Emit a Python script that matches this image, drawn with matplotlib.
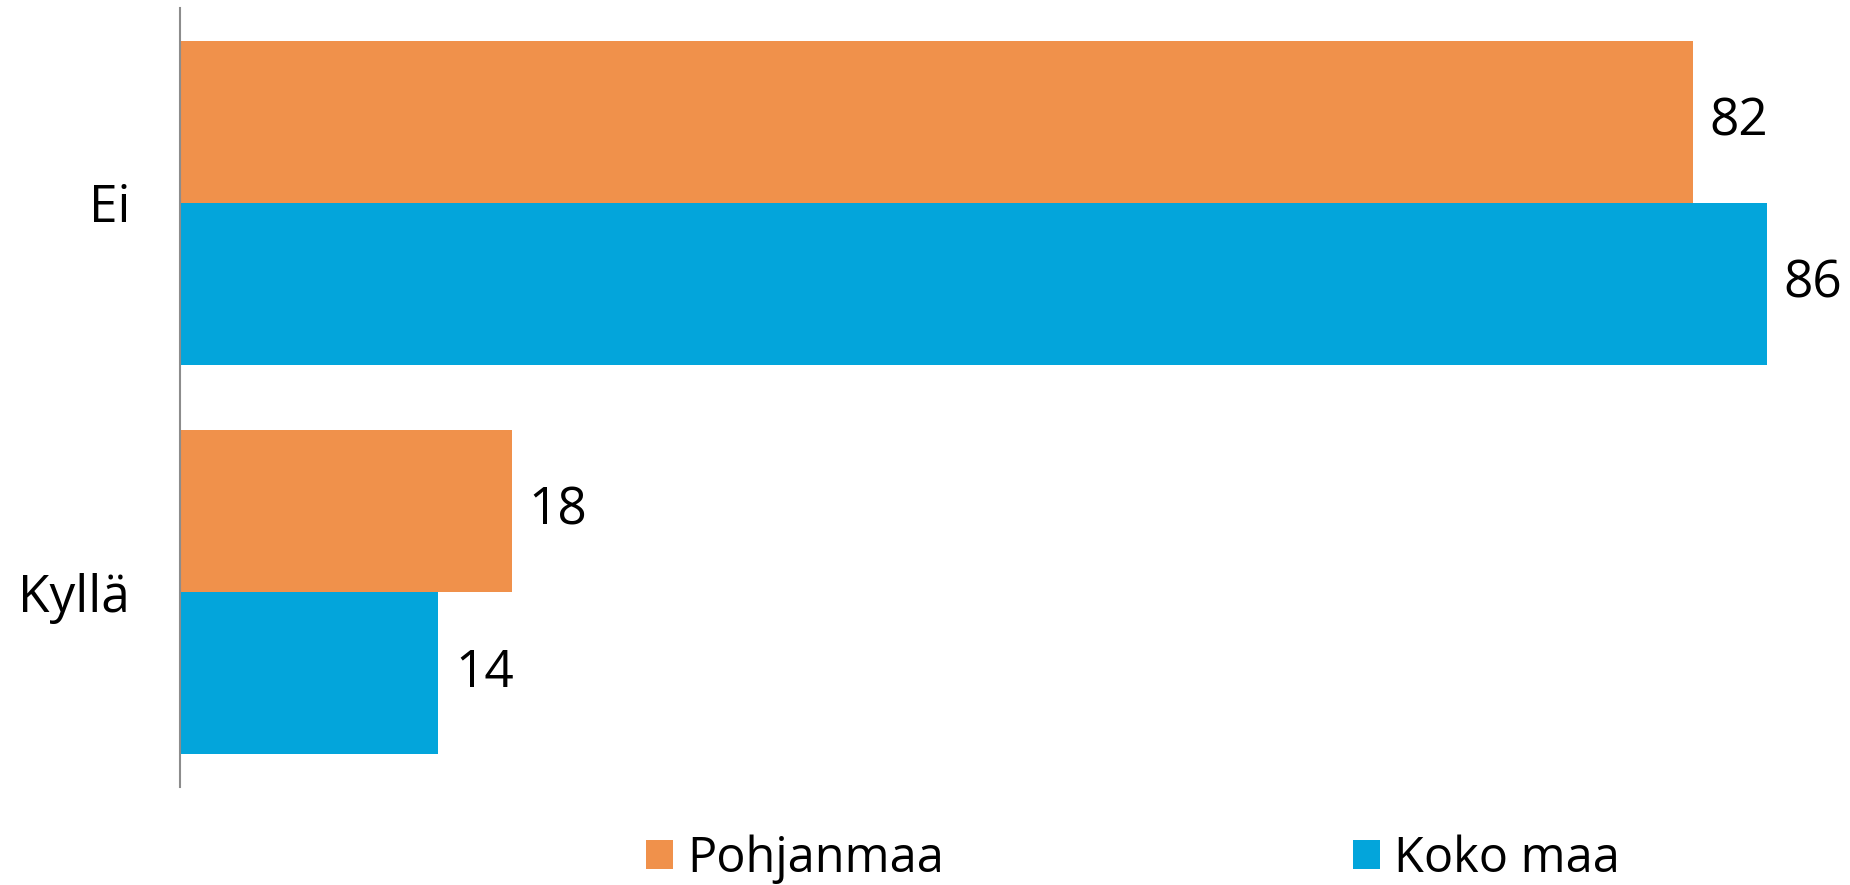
# Ei / Kyllä vaakapalkit, Pohjanmaa vs koko maa
import matplotlib.pyplot as plt

kategoriat = ["Kyllä", "Ei"]
pohjanmaa = [18, 82]
koko_maa = [14, 86]
sarjat = ["Pohjanmaa", "Koko maa"]

oranssi = "#F0914B"
sininen = "#03A5DB"

plt.rcParams["font.family"] = ["Open Sans", "DejaVu Sans"]

fig = plt.figure(figsize=(18.5, 8.85), dpi=100)
ax = fig.add_axes([180 / 1850, 98 / 885, 1 - 180 / 1850, (787 - 8) / 885])

y = list(range(len(kategoriat)))
h = 0.4165
b1 = ax.barh([i + h / 2 for i in y], pohjanmaa, height=h, color=oranssi, label=sarjat[0])
b2 = ax.barh([i - h / 2 for i in y], koko_maa, height=h, color=sininen, label=sarjat[1])

for bars, vals in ((b1, pohjanmaa), (b2, koko_maa)):
    for bar, v in zip(bars, vals):
        ax.annotate(str(v), (bar.get_width(), bar.get_y() + bar.get_height() / 2),
                    xytext=(12, 0), textcoords="offset points",
                    va="center", ha="left", fontsize=37)

ax.set_xlim(0, 90.5)
ax.set_ylim(-0.5, 1.5)
ax.set_yticks(y)
ax.set_yticklabels(kategoriat, fontsize=37)
ax.tick_params(axis="y", length=0, pad=36)
ax.set_xticks([])

for s in ("top", "right", "bottom"):
    ax.spines[s].set_visible(False)
ax.spines["left"].set_color("#8C8C8C")
ax.spines["left"].set_linewidth(1.5)

fig.legend(handles=[b1, b2], labels=sarjat, loc="center",
           bbox_to_anchor=(1133 / 1850, 1 - 859 / 885), ncol=2,
           fontsize=35, frameon=False, handlelength=0.56, handleheight=0.56,
           handletextpad=0.3, columnspacing=8.4, borderpad=0)

plt.savefig("out.png", dpi=100)
